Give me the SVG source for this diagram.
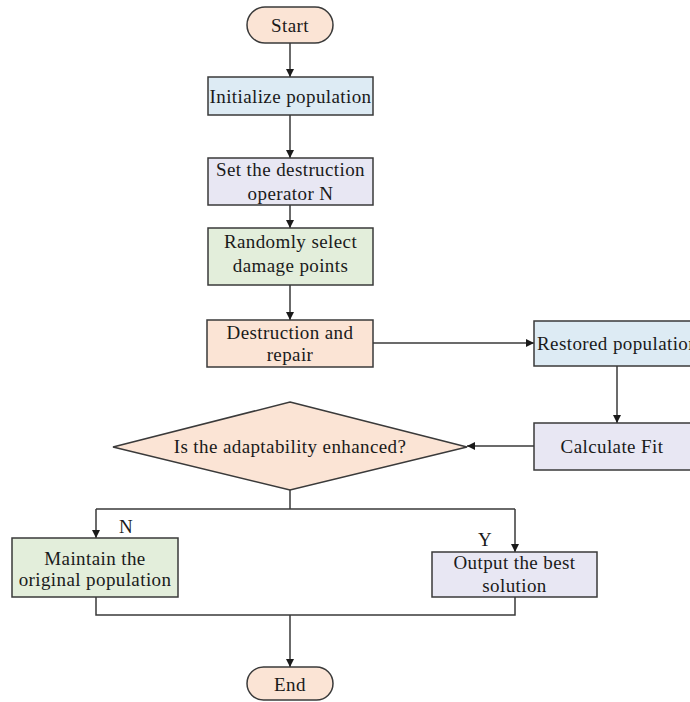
<svg xmlns="http://www.w3.org/2000/svg" width="690" height="702" viewBox="0 0 690 702">
  <style>
    .box { stroke: #3a3a3a; stroke-width: 1.5; }
    .peach { fill: #fbe4d5; }
    .blue { fill: #ddebf4; }
    .lav { fill: #e8e7f3; }
    .green { fill: #e3eedb; }
    .lbl { font-family: "Liberation Serif", "Times New Roman", serif; font-size: 19px; letter-spacing: 0.4px; fill: #1a1a1a; text-anchor: middle; }
    .wire { fill: none; stroke: #3a3a3a; stroke-width: 1.5; }
  </style>
  <defs>
    <marker id="arrow" viewBox="0 0 10 10" refX="10" refY="5" markerWidth="8" markerHeight="8" markerUnits="userSpaceOnUse" orient="auto">
      <path d="M0,0 L10,5 L0,10 z" fill="#1a1a1a"/>
    </marker>
  </defs>
  <rect width="690" height="702" fill="#ffffff"/>

  <g id="connectors">
    <path class="wire" d="M290,43 V77" marker-end="url(#arrow)"/>
    <path class="wire" d="M290,115 V158" marker-end="url(#arrow)"/>
    <path class="wire" d="M290,205 V228" marker-end="url(#arrow)"/>
    <path class="wire" d="M290,285 V320" marker-end="url(#arrow)"/>
    <path class="wire" d="M373,343 H534" marker-end="url(#arrow)"/>
    <path class="wire" d="M617,366 V423" marker-end="url(#arrow)"/>
    <path class="wire" d="M534,446 H467" marker-end="url(#arrow)"/>
    <path class="wire" d="M290,490 V509 M96,509 H515"/>
    <path class="wire" d="M96,509 V538" marker-end="url(#arrow)"/>
    <path class="wire" d="M515,509 V552" marker-end="url(#arrow)"/>
    <path class="wire" d="M96,597 V615 H515 V597"/>
    <path class="wire" d="M290,615 V667" marker-end="url(#arrow)"/>
    <text class="lbl" x="126" y="533">N</text>
    <text class="lbl" x="485" y="546">Y</text>
  </g>

  <g id="start">
    <rect class="box peach" x="247" y="7" width="86" height="36" rx="18"/>
    <text class="lbl" x="290" y="32">Start</text>
  </g>

  <g id="init">
    <rect class="box blue" x="208" y="77" width="165" height="38"/>
    <text class="lbl" x="290.5" y="103">Initialize population</text>
  </g>

  <g id="set-operator">
    <rect class="box lav" x="208" y="158" width="165" height="47"/>
    <text class="lbl" x="290.5" y="176">Set the destruction</text>
    <text class="lbl" x="290.5" y="200">operator N</text>
  </g>

  <g id="select-points">
    <rect class="box green" x="208" y="228" width="165" height="57"/>
    <text class="lbl" x="290.5" y="248">Randomly select</text>
    <text class="lbl" x="290.5" y="272">damage points</text>
  </g>

  <g id="destroy-repair">
    <rect class="box peach" x="207" y="320" width="166" height="47"/>
    <text class="lbl" x="290" y="339">Destruction and</text>
    <text class="lbl" x="290" y="361">repair</text>
  </g>

  <g id="restored">
    <rect class="box blue" x="534" y="321" width="170" height="45"/>
    <text class="lbl" x="537" y="350" style="text-anchor:start">Restored population</text>
  </g>

  <g id="calc-fit">
    <rect class="box lav" x="534" y="423" width="170" height="47"/>
    <text class="lbl" x="612" y="453">Calculate Fit</text>
  </g>

  <g id="decision">
    <polygon class="box peach" points="290,402 467,447 290,490 113,447"/>
    <text class="lbl" x="290" y="453">Is the adaptability enhanced?</text>
  </g>

  <g id="maintain">
    <rect class="box green" x="12" y="538" width="166" height="59"/>
    <text class="lbl" x="95" y="565">Maintain the</text>
    <text class="lbl" x="95" y="586">original population</text>
  </g>

  <g id="output">
    <rect class="box lav" x="432" y="552" width="165" height="45"/>
    <text class="lbl" x="514.5" y="569">Output the best</text>
    <text class="lbl" x="514.5" y="592">solution</text>
  </g>

  <g id="end">
    <rect class="box peach" x="247" y="667" width="86" height="33" rx="16.5"/>
    <text class="lbl" x="290" y="691">End</text>
  </g>
</svg>
